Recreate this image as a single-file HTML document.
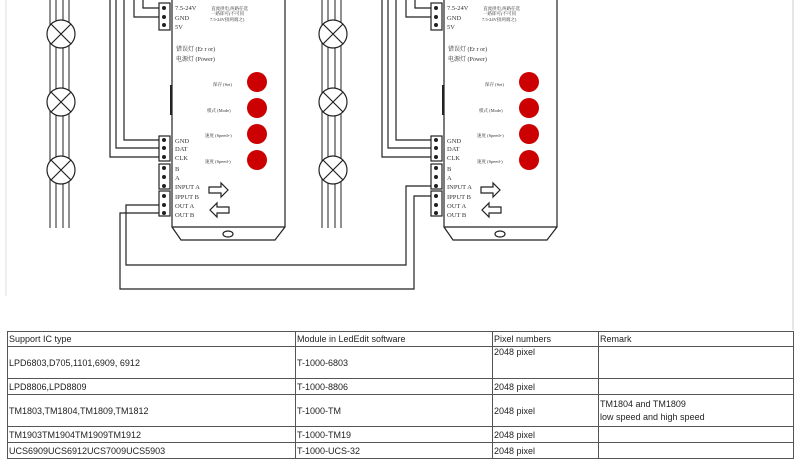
<!DOCTYPE html>
<html><head><meta charset="utf-8"><style>
body{margin:0;background:#fff;width:800px;height:450px;overflow:hidden}
svg{position:absolute;left:0;top:0}
table{position:absolute;left:7px;top:331px;width:786px;table-layout:fixed;border-collapse:collapse;font:9px "Liberation Sans",sans-serif;color:#222}
td{border:1px solid #555;padding:0 1px;vertical-align:middle;line-height:10px;overflow:hidden;white-space:nowrap}
</style></head><body>
<svg width="800" height="450" viewBox="0 0 800 450" font-family="Liberation Serif,Noto Serif CJK SC,serif">
<line x1="6" y1="0" x2="6" y2="296" stroke="#ddd"/>
<line x1="793" y1="0" x2="793" y2="330" stroke="#ccc"/>
<g id="c" fill="none" stroke="#222" stroke-width="1.2">
  <g stroke-width="1">
    <line x1="50" y1="0" x2="50" y2="228"/><line x1="56" y1="0" x2="56" y2="228"/>
    <line x1="63" y1="0" x2="63" y2="228"/><line x1="69" y1="0" x2="69" y2="228"/>
  </g>
  <g fill="#fff">
    <circle cx="61" cy="34" r="14"/><circle cx="61" cy="102" r="14"/><circle cx="61" cy="170" r="14"/>
  </g>
  <path d="M51 24L71 44M71 24L51 44M51 92L71 112M71 92L51 112M51 160L71 180M71 160L51 180"/>
  <path d="M159 140H124V0M159 148H116V0M159 157H110V0M159 8H143V0M159 17H134V0"/>
  <path d="M172 0V227H285V0M172 227L181 240H275L285 227" fill="#fff"/>
  <rect x="159" y="3" width="11" height="27" fill="#fff"/>
  <rect x="159" y="136" width="11" height="25" fill="#fff"/>
  <rect x="159" y="164" width="11" height="25" fill="#fff"/>
  <rect x="159" y="191" width="11" height="25" fill="#fff"/>
  <line x1="171" y1="85" x2="171" y2="115" stroke-width="2"/>
  <path d="M209 187h12v-4l7 7l-7 7v-4h-12z" fill="#fff"/>
  <path d="M229 207h-12v-4l-7 7l7 7v-4h12z" fill="#fff"/>
  <ellipse cx="228" cy="234" rx="5" ry="3"/>
  <g fill="#c00" stroke="none">
    <circle cx="257" cy="82" r="10"/><circle cx="257" cy="108" r="10"/><circle cx="257" cy="134" r="10"/><circle cx="257" cy="160" r="10"/>
  </g>
  <g fill="#222" stroke="none">
    <circle cx="164" cy="8" r="2"/><circle cx="164" cy="17" r="2"/><circle cx="164" cy="25" r="2"/>
    <circle cx="164" cy="140" r="2"/><circle cx="164" cy="148" r="2"/><circle cx="164" cy="157" r="2"/>
    <circle cx="164" cy="168" r="2"/><circle cx="164" cy="177" r="2"/><circle cx="164" cy="186" r="2"/>
    <circle cx="164" cy="196" r="2"/><circle cx="164" cy="205" r="2"/><circle cx="164" cy="213" r="2"/>
  </g>
  <g fill="#333" stroke="none" font-size="6.5">
    <text x="175" y="10">7.5-24V</text><text x="175" y="20">GND</text><text x="175" y="29">5V</text>
    <text x="211" y="10" font-size="4.5">直流供电,两路任选</text><text x="211" y="15" font-size="4.5">一路即可(不可同</text><text x="210" y="21" font-size="4.5">7.5-24V接两端之)</text>
    <text x="176" y="51" font-size="6">错误灯 (Er r or)</text><text x="176" y="61" font-size="6">电源灯 (Power)</text>
    <text x="213" y="86" font-size="4.5">保存 (Set)</text><text x="207" y="112" font-size="4.5">模式 (Mode)</text>
    <text x="205" y="137" font-size="4.5">速度 (Speed+)</text><text x="205" y="163" font-size="4.5">速度 (Speed-)</text>
    <text x="175" y="143">GND</text><text x="175" y="151">DAT</text><text x="175" y="160">CLK</text>
    <text x="175" y="171">B</text><text x="175" y="180">A</text><text x="175" y="189">INPUT A</text>
    <text x="175" y="199">IPPUT B</text><text x="175" y="208">OUT A</text><text x="175" y="217">OUT B</text>
  </g>
</g>
<use href="#c" x="272"/>
<path d="M159 205H126V265H406V186H431M159 213H120V289H414V196H431" fill="none" stroke="#222" stroke-width="1.2"/>
</svg>
<table>
<colgroup><col style="width:288px"><col style="width:197px"><col style="width:106px"><col style="width:195px"></colgroup>
<tr style="height:15px"><td>Support IC type</td><td>Module in LedEdit software</td><td>Pixel numbers</td><td>Remark</td></tr>
<tr style="height:32px"><td>LPD6803,D705,1101,6909, 6912</td><td>T-1000-6803</td><td style="vertical-align:top">2048 pixel</td><td></td></tr>
<tr style="height:16px"><td>LPD8806,LPD8809</td><td>T-1000-8806</td><td>2048 pixel</td><td></td></tr>
<tr style="height:32px"><td>TM1803,TM1804,TM1809,TM1812</td><td>T-1000-TM</td><td>2048 pixel</td><td style="line-height:13px">TM1804 and TM1809<br>low speed and high speed</td></tr>
<tr style="height:16px"><td>TM1903TM1904TM1909TM1912</td><td>T-1000-TM19</td><td>2048 pixel</td><td></td></tr>
<tr style="height:16px"><td>UCS6909UCS6912UCS7009UCS5903</td><td>T-1000-UCS-32</td><td>2048 pixel</td><td></td></tr>
</table>
</body></html>
